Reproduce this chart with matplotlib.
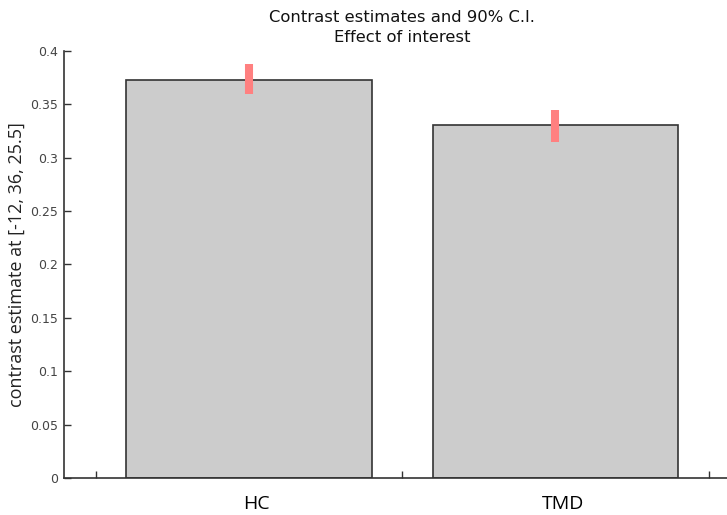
import matplotlib
matplotlib.use("Agg")
import matplotlib.pyplot as plt

groups = ["HC", "TMD"]
estimates = [0.373, 0.331]
ci_low = [0.360, 0.315]
ci_high = [0.388, 0.345]
yticks = [0, 0.05, 0.1, 0.15, 0.2, 0.25, 0.3, 0.35, 0.4]
ytick_labels = ["0", "0.05", "0.1", "0.15", "0.2", "0.25", "0.3", "0.35", "0.4"]

fig = plt.figure(figsize=(7.27, 5.15), dpi=100)
ax = fig.add_axes([0.088, 0.072, 0.912, 0.829])

pos = [1, 2]
ax.bar(pos, estimates, width=0.8, color="#cccccc", edgecolor="#333333", linewidth=1.2, zorder=2)
ax.vlines(pos, ci_low, ci_high, color="#ff8080", linewidth=5.8, zorder=3)

ax.set_xlim(0.396, 2.56)
ax.set_ylim(0, 0.4)
ax.set_xticks([0.5, 1.5, 2.5])
ax.set_xticklabels([])
ax.set_yticks(yticks)
ax.set_yticklabels(ytick_labels, color="#444444", fontsize=9)
ax.tick_params(direction="in", length=5, width=1, color="#333333", pad=4)

for s in ["top", "right"]:
    ax.spines[s].set_visible(False)
for s in ["left", "bottom"]:
    ax.spines[s].set_color("#333333")
    ax.spines[s].set_linewidth(1.2)

ax.set_ylabel("contrast estimate at [-12, 36, 25.5]", fontsize=13, family="Open Sans",
              color="#222222", labelpad=3)

for p, g in zip(pos, groups):
    ax.text(p + 0.025, -0.024, g, ha="center", va="center", fontsize=14,
            family="Open Sans", color="black")

fig.text(0.553, 0.947, "Contrast estimates and 90% C.I.\nEffect of interest",
         ha="center", va="center", fontsize=11.8, color="#111111", linespacing=1.4)

fig.savefig("out.png", dpi=100)
